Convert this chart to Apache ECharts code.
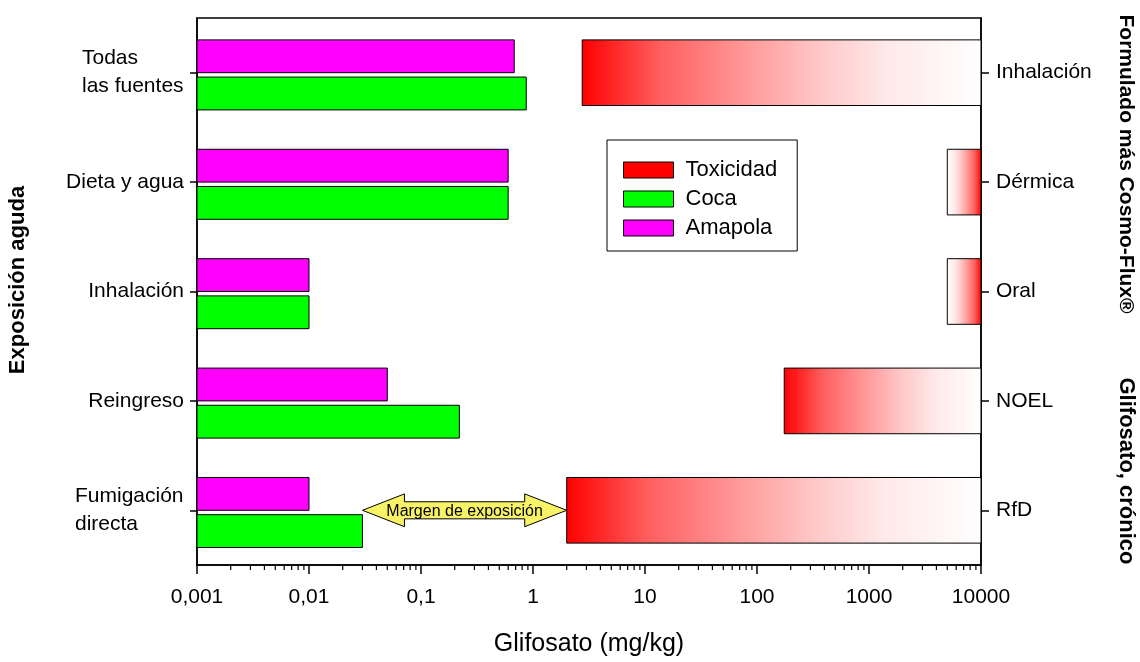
<!DOCTYPE html>
<html>
<head>
<meta charset="utf-8">
<script src="https://cdn.jsdelivr.net/npm/echarts@6/dist/echarts.min.js"></script>
<style>
html,body{margin:0;padding:0;background:#fff;}
#chart{width:1140px;height:662px;}
</style>
</head>
<body>
<div id="chart"></div>
<script>
// ---- data ----
const categories = ['Todas\nlas fuentes', 'Dieta y agua', 'Inhalación', 'Reingreso', 'Fumigación\ndirecta'];
const amapola = [0.68, 0.6, 0.01, 0.05, 0.01];
const coca = [0.87, 0.6, 0.01, 0.22, 0.03];
const chronicCategories = ['Inhalación', 'Dérmica', 'Oral', 'NOEL', 'RfD'];
const toxStart = [2.75, 5000, 5000, 175, 2];
const toxEnd = [10000, 10000, 10000, 10000, 10000];
const xTickLabels = ['0,001', '0,01', '0,1', '1', '10', '100', '1000', '10000'];
const minorMultipliers = [2, 3, 4, 5, 6, 7, 8, 9];
const decades = [0.001, 0.01, 0.1, 1, 10, 100, 1000];
const marginLabel = 'Margen de exposición';

// ---- styling ----
const FONT = '"Liberation Sans", Arial, sans-serif';
const X_MIN = 0.001, X_MAX = 10000;
const reversedGradient = { 'Dérmica': true, 'Oral': true };
const gradStops = [
  { offset: 0, color: '#ff0000' },
  { offset: 0.2, color: '#ff6060' },
  { offset: 0.44, color: '#ffa0a0' },
  { offset: 0.6, color: '#ffc8c8' },
  { offset: 0.76, color: '#ffe8e8' },
  { offset: 1, color: '#ffffff' }
];
const minorTickValues = [];
decades.forEach(d => minorMultipliers.forEach(m => minorTickValues.push(+(d * m).toPrecision(6))));

const chart = echarts.init(document.getElementById('chart'));

// measure text for left-aligned multi-line category labels
const ctx = document.createElement('canvas').getContext('2d');
ctx.font = '21px ' + FONT;
const rich = {};
categories.forEach((c, i) => {
  if (c.indexOf('\n') >= 0) {
    const w = Math.max.apply(null, c.split('\n').map(l => ctx.measureText(l).width));
    rich['m' + i] = { width: Math.ceil(w), align: 'left', fontSize: 21, lineHeight: 28, fontFamily: FONT, color: '#000' };
  }
});

function bandInfo(api, idx) {
  const c = api.coord([1, idx])[1];
  const bw = api.size([1, 1], [1, idx])[1];
  return { c, bw };
}

function barSeries(name, values, color, top, bottom) {
  return {
    name: name,
    type: 'custom',
    yAxisIndex: 0,
    itemStyle: { color: color, borderColor: '#000', borderWidth: 1 },
    encode: { x: 0, y: 1 },
    data: values.map((v, i) => [v, i]),
    renderItem: function (params, api) {
      const idx = api.value(1);
      const v = api.value(0);
      const { c, bw } = bandInfo(api, idx);
      const x0 = api.coord([X_MIN, idx])[0];
      const x1 = api.coord([v, idx])[0];
      return {
        type: 'rect',
        shape: { x: x0, y: c + top * bw, width: x1 - x0, height: (bottom - top) * bw },
        style: { fill: color, stroke: '#000', lineWidth: 1 }
      };
    },
    z: 3
  };
}

const option = {
  animation: false,
  backgroundColor: '#fff',
  grid: { left: 197, right: 159, top: 18, bottom: 94, show: true, borderColor: '#000', borderWidth: 1.5, backgroundColor: 'transparent' },
  legend: {
    data: ['Toxicidad', 'Coca', 'Amapola'],
    orient: 'vertical',
    left: 607, top: 140,
    padding: [19, 20, 12, 16],
    itemWidth: 50, itemHeight: 16, itemGap: 7,
    backgroundColor: '#fff',
    borderColor: '#000', borderWidth: 1,
    icon: 'rect',
    itemStyle: { borderColor: '#000', borderWidth: 1 },
    textStyle: { fontFamily: FONT, fontSize: 22, color: '#000', lineHeight: 20, padding: [0, 0, 0, 7] }
  },
  xAxis: [{
    type: 'log',
    logBase: 10,
    min: X_MIN, max: X_MAX,
    position: 'bottom',
    axisLine: { show: true, lineStyle: { color: '#000', width: 1.5 } },
    axisTick: { show: true, inside: false, length: 9, lineStyle: { color: '#000', width: 1.5 } },
    splitLine: { show: false },
    minorTick: { show: false },
    axisLabel: {
      margin: 22,
      fontFamily: FONT, fontSize: 21, color: '#000',
      formatter: function (v) { return xTickLabels[Math.round(Math.log10(v)) + 3]; }
    },
    name: 'Glifosato (mg/kg)',
    nameLocation: 'middle',
    nameGap: 67,
    nameTextStyle: { fontFamily: FONT, fontSize: 25, color: '#000' }
  }],
  yAxis: [{
    type: 'category',
    data: categories,
    inverse: true,
    position: 'left',
    axisLine: { show: true, lineStyle: { color: '#000', width: 1.5 } },
    axisTick: { show: true, alignWithLabel: true, length: 7, lineStyle: { color: '#000', width: 1.5 } },
    splitLine: { show: false },
    axisLabel: {
      margin: 13,
      fontFamily: FONT, fontSize: 21, color: '#000', lineHeight: 28,
      formatter: function (value, i) {
        if (value.indexOf('\n') >= 0) {
          return value.split('\n').map(l => '{m' + i + '|' + l + '}').join('\n');
        }
        return value;
      },
      rich: rich
    }
  }, {
    type: 'category',
    data: chronicCategories,
    inverse: true,
    position: 'right',
    axisLine: { show: true, lineStyle: { color: '#000', width: 1.5 } },
    axisTick: { show: true, alignWithLabel: true, length: 8, lineStyle: { color: '#000', width: 1.5 } },
    splitLine: { show: false },
    axisLabel: { margin: 15, fontFamily: FONT, fontSize: 21, color: '#000' }
  }],
  graphic: [
    { type: 'text', x: 18, y: 280, rotation: Math.PI / 2,
      style: { text: 'Exposición aguda', font: 'bold 22px ' + FONT, fill: '#000', textAlign: 'center', textVerticalAlign: 'middle' } },
    { type: 'text', x: 1126, y: 164, rotation: -Math.PI / 2,
      style: { text: 'Formulado más Cosmo-Flux®', font: 'bold 21px ' + FONT, fill: '#000', textAlign: 'center', textVerticalAlign: 'middle' } },
    { type: 'text', x: 1126, y: 471, rotation: -Math.PI / 2,
      style: { text: 'Glifosato, crónico', font: 'bold 22px ' + FONT, fill: '#000', textAlign: 'center', textVerticalAlign: 'middle' } }
  ],
  series: [
    {
      name: 'Toxicidad',
      type: 'custom',
      yAxisIndex: 1,
      itemStyle: { color: '#ff0000', borderColor: '#000', borderWidth: 1 },
      encode: { x: [0, 1], y: 2 },
      data: toxStart.map((s, i) => [s, toxEnd[i], i]),
      renderItem: function (params, api) {
        const idx = api.value(2);
        const { c, bw } = bandInfo(api, idx);
        const x0 = api.coord([api.value(0), idx])[0];
        const x1 = api.coord([api.value(1), idx])[0];
        const rev = reversedGradient[chronicCategories[idx]];
        const stops = rev ? gradStops.map(s => ({ offset: 1 - s.offset, color: s.color })).reverse() : gradStops;
        return {
          type: 'rect',
          shape: { x: x0, y: c - 0.3 * bw, width: x1 - x0, height: 0.6 * bw },
          style: { fill: new echarts.graphic.LinearGradient(0, 0, 1, 0, stops), stroke: '#000', lineWidth: 1 }
        };
      },
      z: 2
    },
    barSeries('Amapola', amapola, '#ff00ff', -0.3, 0.0),
    barSeries('Coca', coca, '#00ff00', 0.04, 0.34),
    {
      name: 'margin',
      type: 'custom',
      yAxisIndex: 0,
      silent: true,
      encode: { x: [0, 1], y: 2 },
      data: [[coca[4], toxStart[4], 4]],
      renderItem: function (params, api) {
        const idx = api.value(2);
        const { c, bw } = bandInfo(api, idx);
        const xa = api.coord([api.value(0), idx])[0];
        const xb = api.coord([api.value(1), idx])[0];
        const H = 0.15 * bw, B = 0.078 * bw, h = 42;
        const pts = [[xa, c], [xa + h, c - H], [xa + h, c - B], [xb - h, c - B], [xb - h, c - H], [xb, c],
                     [xb - h, c + H], [xb - h, c + B], [xa + h, c + B], [xa + h, c + H]];
        return {
          type: 'group',
          children: [
            { type: 'polygon', shape: { points: pts }, style: { fill: '#f8f266', stroke: '#000', lineWidth: 1 } },
            { type: 'text', x: (xa + xb) / 2, y: c + 1, style: { text: marginLabel, font: '16px ' + FONT, fill: '#000', textAlign: 'center', textVerticalAlign: 'middle' } }
          ]
        };
      },
      z: 4
    },
    {
      name: 'minorTicks',
      type: 'custom',
      silent: true,
      clip: false,
      encode: { x: 0, y: 1 },
      data: minorTickValues.map(v => [v, 0]),
      renderItem: function (params, api) {
        const x = api.coord([api.value(0), 0])[0];
        const cs = params.coordSys;
        const yb = cs.y + cs.height;
        return { type: 'line', shape: { x1: x, y1: yb, x2: x, y2: yb + 5 }, style: { stroke: '#000', lineWidth: 1.2 } };
      },
      z: 5
    }
  ]
};
chart.setOption(option);
</script>
</body>
</html>
